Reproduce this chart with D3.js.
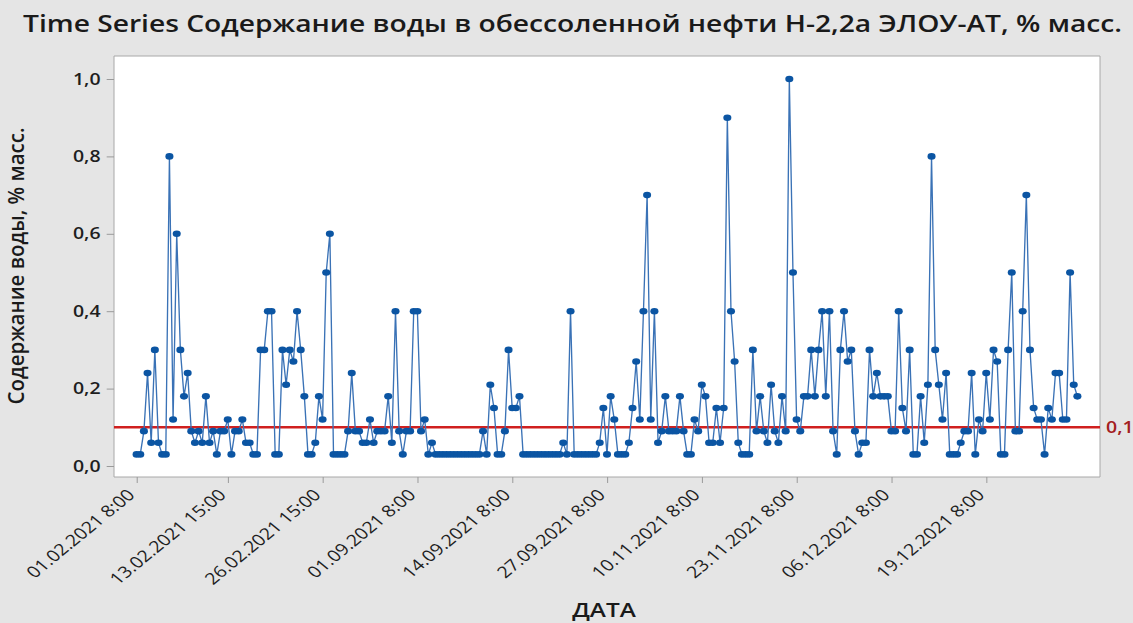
<!DOCTYPE html>
<html>
<head>
<meta charset="utf-8">
<script src="https://cdn.jsdelivr.net/npm/d3@7"></script>
<style>
  html, body { margin: 0; padding: 0; background: #e5e5e5; }
  svg { display: block; }
  text { font-family: "Open Sans", "Noto Sans", sans-serif; }
</style>
</head>
<body>
<svg id="chart" width="1133" height="623"></svg>
<script>
// ---- data ----
const titleText = "Time Series Содержание воды в обессоленной нефти Н-2,2а ЭЛОУ-АТ, % масс.";
const yTitle = "Содержание воды, % масс.";
const xTitle = "ДАТА";
const values = [
  0.03, 0.03, 0.09, 0.24, 0.06, 0.3, 0.06, 0.03, 0.03, 0.8,
  0.12, 0.6, 0.3, 0.18, 0.24, 0.09, 0.06, 0.09, 0.06, 0.18,
  0.06, 0.09, 0.03, 0.09, 0.09, 0.12, 0.03, 0.09, 0.09, 0.12,
  0.06, 0.06, 0.03, 0.03, 0.3, 0.3, 0.4, 0.4, 0.03, 0.03,
  0.3, 0.21, 0.3, 0.27, 0.4, 0.3, 0.18, 0.03, 0.03, 0.06,
  0.18, 0.12, 0.5, 0.6, 0.03, 0.03, 0.03, 0.03, 0.09, 0.24,
  0.09, 0.09, 0.06, 0.06, 0.12, 0.06, 0.09, 0.09, 0.09, 0.18,
  0.06, 0.4, 0.09, 0.03, 0.09, 0.09, 0.4, 0.4, 0.09, 0.12,
  0.03, 0.06, 0.03, 0.03, 0.03, 0.03, 0.03, 0.03, 0.03, 0.03,
  0.03, 0.03, 0.03, 0.03, 0.03, 0.09, 0.03, 0.21, 0.15, 0.03,
  0.03, 0.09, 0.3, 0.15, 0.15, 0.18, 0.03, 0.03, 0.03, 0.03,
  0.03, 0.03, 0.03, 0.03, 0.03, 0.03, 0.03, 0.06, 0.03, 0.4,
  0.03, 0.03, 0.03, 0.03, 0.03, 0.03, 0.03, 0.06, 0.15, 0.03,
  0.18, 0.12, 0.03, 0.03, 0.03, 0.06, 0.15, 0.27, 0.12, 0.4,
  0.7, 0.12, 0.4, 0.06, 0.09, 0.18, 0.09, 0.09, 0.09, 0.18,
  0.09, 0.03, 0.03, 0.12, 0.09, 0.21, 0.18, 0.06, 0.06, 0.15,
  0.06, 0.15, 0.9, 0.4, 0.27, 0.06, 0.03, 0.03, 0.03, 0.3,
  0.09, 0.18, 0.09, 0.06, 0.21, 0.09, 0.06, 0.18, 0.09, 1.0,
  0.5, 0.12, 0.09, 0.18, 0.18, 0.3, 0.18, 0.3, 0.4, 0.18,
  0.4, 0.09, 0.03, 0.3, 0.4, 0.27, 0.3, 0.09, 0.03, 0.06,
  0.06, 0.3, 0.18, 0.24, 0.18, 0.18, 0.18, 0.09, 0.09, 0.4,
  0.15, 0.09, 0.3, 0.03, 0.03, 0.18, 0.06, 0.21, 0.8, 0.3,
  0.21, 0.12, 0.24, 0.03, 0.03, 0.03, 0.06, 0.09, 0.09, 0.24,
  0.03, 0.12, 0.09, 0.24, 0.12, 0.3, 0.27, 0.03, 0.03, 0.3,
  0.5, 0.09, 0.09, 0.4, 0.7, 0.3, 0.15, 0.12, 0.12, 0.03,
  0.15, 0.12, 0.24, 0.24, 0.12, 0.12, 0.5, 0.21, 0.18
];
const xTickIndex = [1, 26, 52, 78, 104, 130, 156, 182, 208, 234];
const xTickLabels = [
  "01.02.2021 8:00", "13.02.2021 15:00", "26.02.2021 15:00", "01.09.2021 8:00",
  "14.09.2021 8:00", "27.09.2021 8:00", "10.11.2021 8:00", "23.11.2021 8:00",
  "06.12.2021 8:00", "19.12.2021 8:00"
];
const yTickValues = [0, 0.2, 0.4, 0.6, 0.8, 1.0];
const refValue = 0.1;
const refLabel = "0,1";

// ---- layout (drawn in an unstretched frame, then stretched horizontally) ----
const K = 1.22;
const W = 1133, H = 623;
const plot = { left: 114 / K, right: 1100 / K, top: 56, bottom: 477 };

const svg = d3.select("#chart");
svg.append("rect").attr("width", W).attr("height", H).attr("fill", "#e5e5e5");
const g = svg.append("g").attr("transform", `scale(${K},1)`);

const x = d3.scaleLinear().domain([-5.2, 265.2]).range([plot.left, plot.right]);
const y = d3.scaleLinear().domain([0, 1]).range([466, 79]);

// plot area
g.append("rect")
  .attr("x", plot.left).attr("y", plot.top)
  .attr("width", plot.right - plot.left).attr("height", plot.bottom - plot.top)
  .attr("fill", "#ffffff").attr("stroke", "#a8a8a8").attr("stroke-width", 1)
  .attr("vector-effect", "non-scaling-stroke");

// y axis
const yAxis = g.append("g")
  .attr("transform", `translate(${plot.left},0)`)
  .call(d3.axisLeft(y).tickValues(yTickValues).tickSize(6).tickPadding(5)
    .tickFormat(d => d.toFixed(1).replace(".", ",")));
yAxis.select(".domain").remove();
yAxis.selectAll(".tick line").attr("stroke", "#9a9a9a").attr("vector-effect", "non-scaling-stroke");
yAxis.selectAll(".tick text")
  .attr("fill", "#1e1e1e").style("font-size", "16px").style("font-weight", 600);

// x axis
const xAxis = g.append("g")
  .attr("transform", `translate(0,${plot.bottom})`)
  .call(d3.axisBottom(x).tickValues(xTickIndex).tickSize(6)
    .tickFormat((d, i) => xTickLabels[i]));
xAxis.select(".domain").remove();
xAxis.selectAll(".tick line").attr("stroke", "#9a9a9a").attr("vector-effect", "non-scaling-stroke");
xAxis.selectAll(".tick text")
  .attr("y", 0).attr("dy", 0)
  .attr("text-anchor", "end")
  .attr("transform", "translate(-1,19) rotate(-45)")
  .attr("fill", "#1e1e1e").style("font-size", "16px").style("font-weight", 400);

// reference line
g.append("line")
  .attr("x1", plot.left).attr("x2", plot.right)
  .attr("y1", y(refValue)).attr("y2", y(refValue))
  .attr("stroke", "#d0201f").attr("stroke-width", 2.5);
g.append("text")
  .attr("x", plot.right + 5).attr("y", y(refValue)).attr("dy", "0.35em")
  .attr("fill", "#a3201f").style("font-size", "16px").style("font-weight", 600)
  .text(refLabel);

// series line + markers
const line = d3.line().x((d, i) => x(i + 1)).y(d => y(d));
g.append("path").datum(values)
  .attr("d", line).attr("fill", "none")
  .attr("stroke", "#3a72b6").attr("stroke-width", 1.1);
g.append("g").selectAll("circle").data(values).join("circle")
  .attr("cx", (d, i) => x(i + 1)).attr("cy", d => y(d))
  .attr("r", 3.3).attr("fill", "#0b55a3");

// titles
function fit(sel, target) {
  const w = sel.node().getComputedTextLength();
  if (Math.abs(w - target) > 2) sel.attr("textLength", target).attr("lengthAdjust", "spacingAndGlyphs");
}
const t = g.append("text")
  .attr("x", 23 / K).attr("y", 32)
  .attr("fill", "#1a1a1a").style("font-size", "23px").style("font-weight", 600)
  .text(titleText);
fit(t, 1099 / K);

const yt = g.append("text")
  .attr("transform", "translate(20,266) rotate(-90)")
  .attr("text-anchor", "middle")
  .attr("fill", "#1a1a1a").style("font-size", "18px").style("font-weight", 600)
  .text(yTitle);
fit(yt, 277);

const xt = g.append("text")
  .attr("x", 604 / K).attr("y", 617)
  .attr("text-anchor", "middle")
  .attr("fill", "#1a1a1a").style("font-size", "20px").style("font-weight", 600)
  .text(xTitle);
</script>
</body>
</html>
